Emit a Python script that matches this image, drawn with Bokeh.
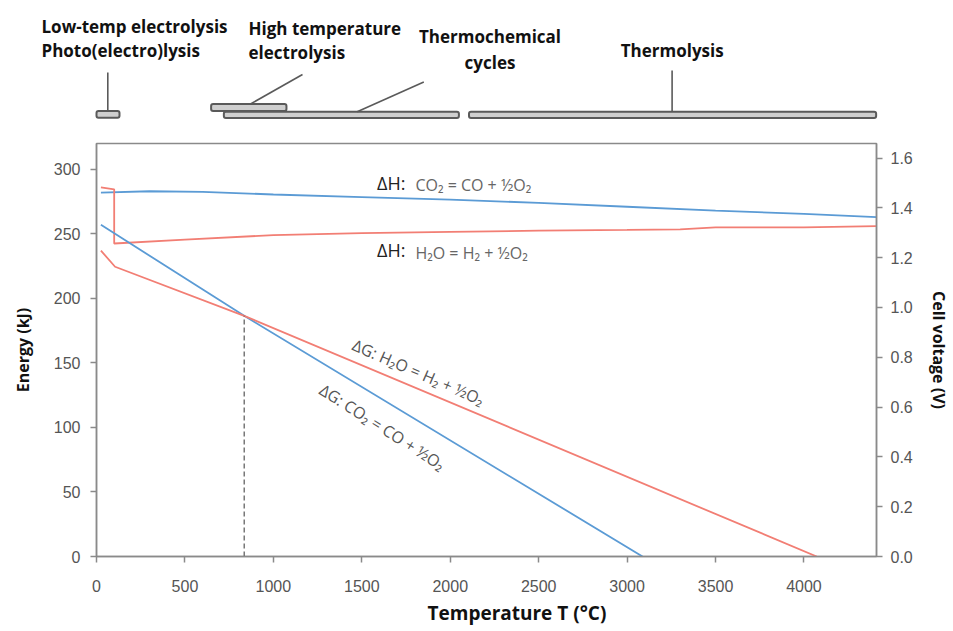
from bokeh.plotting import figure
from bokeh.models import Range1d, LinearAxis, FixedTicker, Title, NumeralTickFormatter
from bokeh.layouts import column, row
from bokeh.core.properties import value
from bokeh.embed import file_html
from bokeh.resources import INLINE

# ---------------- data ----------------
T_DH_CO2 = [25, 300, 600, 1000, 1500, 2000, 2500, 3000, 3500, 4000, 4410]
E_DH_CO2 = [282, 283, 282.5, 280.5, 278.5, 276.5, 274, 271, 268, 265.5, 263]

T_DH_H2O = [25, 100, 100, 500, 1000, 1500, 2000, 2500, 3000, 3300, 3500, 4000, 4410]
E_DH_H2O = [286, 284.5, 242.5, 245.5, 249, 250.5, 251.5, 252.5, 253, 253.5, 255, 255, 256]

T_DG_CO2 = [25, 835, 3087]
E_DG_CO2 = [257, 186.5, 0]

T_DG_H2O = [25, 105, 835, 4072]
E_DG_H2O = [237, 224.5, 186.5, 0]

T_CROSS = 835
E_CROSS = 186.5

X_TICKS = [0, 500, 1000, 1500, 2000, 2500, 3000, 3500, 4000]
Y_TICKS = [0, 50, 100, 150, 200, 250, 300]
V_TICKS = [0.0, 0.2, 0.4, 0.6, 0.8, 1.0, 1.2, 1.4, 1.6]
KJ_PER_V = 192.97  # 2F / 1000
T_MAX = 4410
E_MAX = 320

# process temperature ranges (top strip)
PROC_T0 = [0, 648, 720, 2106]
PROC_T1 = [130, 1074, 2049, 4408]

BLUE = "#5b9bd5"
RED = "#f27e74"
GRAY_AX = "#8a8a8a"
TICK_COL = "#555555"

# ---------------- layout constants ----------------
W = 952
TOP_H = 130
BOT_H = 501
B_LEFT = 96
B_RIGHT = 76
FRAME_W = W - B_LEFT - B_RIGHT
PX_PER_T = FRAME_W / T_MAX


def tx(px_page):
    """page pixel x -> temperature coordinate (annotation placement in the top strip)"""
    return (px_page - B_LEFT) / PX_PER_T


# ---------------- top strip (full-width frame) ----------------
top = figure(width=W, height=TOP_H, output_backend="svg", toolbar_location=None,
             x_range=Range1d(tx(0), tx(W)), y_range=Range1d(TOP_H, 0),
             x_axis_type=None, y_axis_type=None, min_border=0,
             min_border_left=0, min_border_right=0, min_border_top=0, min_border_bottom=0)
top.outline_line_color = None
top.grid.visible = False

row_top = [110.5, 103.5, 111.2, 111.2]
row_bot = [117.2, 110.6, 117.6, 117.6]
top.quad(left=PROC_T0, right=PROC_T1, top=row_top, bottom=row_bot,
         fill_color="#cfcfcf", line_color="#5a5a5a", line_width=2, border_radius=2)

# leader lines
top.segment(x0=[tx(107.3), tx(250), tx(356.7), tx(671.6)],
            y0=[110.3, 103.5, 111.2, 111.0],
            x1=[tx(107.3), tx(302), tx(423.3), tx(671.6)],
            y1=[72, 74, 81.5, 70],
            line_color="#5a5a5a", line_width=1.6)

lbl_font = value("Open Sans")
top.text(x=[tx(41), tx(41), tx(248), tx(248)],
         y=[26, 50, 28, 52],
         text=["Low-temp electrolysis", "Photo(electro)lysis", "High temperature", "electrolysis"],
         text_font=lbl_font, text_font_style="bold", text_font_size="17px",
         text_align="left", text_baseline="middle", text_color="#111111")
top.text(x=[tx(489.5), tx(489.5), tx(671.7)],
         y=[36, 62, 50],
         text=["Thermochemical", "cycles", "Thermolysis"],
         text_font=lbl_font, text_font_style="bold", text_font_size="17px",
         text_align="center", text_baseline="middle", text_color="#111111")

# ---------------- main chart ----------------
p = figure(width=W, height=BOT_H, output_backend="svg", toolbar_location=None,
           x_range=Range1d(0, T_MAX), y_range=Range1d(0, E_MAX),
           min_border_left=B_LEFT, min_border_right=B_RIGHT, min_border_top=13,
           min_border_bottom=75)
p.grid.visible = False
p.outline_line_color = GRAY_AX
p.outline_line_width = 1.5

p.extra_y_ranges = {"volt": Range1d(0, E_MAX / KJ_PER_V)}

for ax in (p.xaxis[0], p.yaxis[0]):
    ax.axis_line_color = GRAY_AX
    ax.axis_line_width = 1.5
    ax.major_tick_line_color = GRAY_AX
    ax.major_tick_line_width = 1.5
    ax.major_tick_in = 0
    ax.major_tick_out = 6
    ax.minor_tick_line_color = None
    ax.major_label_text_font = "Liberation Sans"
    ax.major_label_text_font_size = "16px"
    ax.major_label_text_color = TICK_COL

p.xaxis.ticker = FixedTicker(ticks=X_TICKS)
p.yaxis.ticker = FixedTicker(ticks=Y_TICKS)
p.xaxis.major_label_standoff = 17
p.yaxis.major_label_standoff = 10

p.yaxis.axis_label = "Energy (kJ)"
p.yaxis.axis_label_text_font = "Open Sans"
p.yaxis.axis_label_text_font_style = "bold"
p.yaxis.axis_label_text_font_size = "16px"
p.yaxis.axis_label_text_color = "#111111"
p.yaxis.axis_label_standoff = 17

vax = LinearAxis(y_range_name="volt", ticker=FixedTicker(ticks=V_TICKS),
                 formatter=NumeralTickFormatter(format="0.0"))
vax.axis_line_color = GRAY_AX
vax.axis_line_width = 1.5
vax.major_tick_line_color = GRAY_AX
vax.major_tick_line_width = 1.5
vax.major_tick_in = 0
vax.major_tick_out = 6
vax.minor_tick_line_color = None
vax.major_label_text_font = "Liberation Sans"
vax.major_label_text_font_size = "16px"
vax.major_label_text_color = TICK_COL
vax.major_label_standoff = 8
vax.axis_label = "Cell voltage (V)"
vax.axis_label_text_font = "Open Sans"
vax.axis_label_text_font_style = "bold"
vax.axis_label_text_font_size = "16px"
vax.axis_label_text_color = "#111111"
vax.axis_label_standoff = 12
p.add_layout(vax, "right")

xt = Title(text="Temperature T (°C)", align="left", offset=331,
           text_font="Open Sans", text_font_style="bold", text_font_size="19px",
           text_color="#111111", standoff=6)
p.add_layout(xt, "below")

# lines
p.line(T_DH_CO2, E_DH_CO2, line_color=BLUE, line_width=1.8)
p.line(T_DH_H2O, E_DH_H2O, line_color=RED, line_width=1.8)
p.line(T_DG_CO2, E_DG_CO2, line_color=BLUE, line_width=1.8)
p.line(T_DG_H2O, E_DG_H2O, line_color=RED, line_width=1.8)
p.line([T_CROSS, T_CROSS], [0, E_CROSS], line_color="#555555", line_width=1.2, line_dash="5 3")

# annotations
p.text(x=[1586, 1586], y=[289.5, 237.5], text=["ΔH:", "ΔH:"],
       text_font=value("Open Sans"), text_font_size="18px", text_color="#222222",
       text_align="left", text_baseline="middle")
p.text(x=[1803, 1803], y=[287.5, 235.5], text=["CO₂ = CO + ½O₂", "H₂O = H₂ + ½O₂"],
       text_font=value("Open Sans"), text_font_size="16px", text_color="#666666",
       text_align="left", text_baseline="middle")
p.text(x=[1820], y=[142.8], text=["ΔG: H₂O = H₂ + ½O₂"], angle=[-23.5], angle_units="deg",
       text_font=value("Open Sans"), text_font_size="16px", text_color="#555555",
       text_align="center", text_baseline="middle")
p.text(x=[1616], y=[100.3], text=["ΔG: CO₂ = CO + ½O₂"], angle=[-32.5], angle_units="deg",
       text_font=value("Open Sans"), text_font_size="16px", text_color="#555555",
       text_align="center", text_baseline="middle")

layout = column(row(top), p, spacing=0)
open("out.html", "w").write(file_html(layout, INLINE))
